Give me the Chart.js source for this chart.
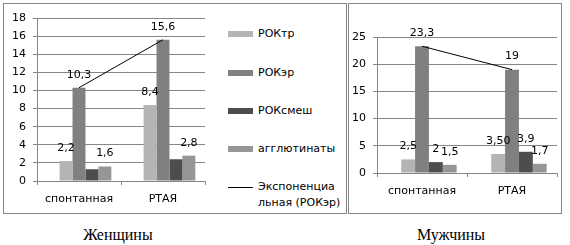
<!DOCTYPE html>
<html>
<head>
<meta charset="utf-8">
<script src="https://cdn.jsdelivr.net/npm/chart.js@4/dist/chart.umd.min.js"></script>
<style>
  body { margin: 0; width: 570px; height: 245px; background: #fff; position: relative; overflow: hidden; font-family: 'DejaVu Sans', sans-serif; }
  .box { position: absolute; border: 1px solid #868686; box-sizing: border-box; }
  canvas { position: absolute; }
  .sw { position: absolute; left: 228px; width: 25px; height: 6px; }
  .ln { position: absolute; left: 228px; width: 25px; height: 1px; background: #000; }
  .lt { position: absolute; left: 258px; font-size: 11px; line-height: 16px; color: #000; white-space: nowrap; }
  .cap { position: absolute; top: 226px; width: 140px; text-align: center; font-family: 'Liberation Serif', serif; font-size: 16px; color: #000; }
</style>
</head>
<body>
<div class="box" style="left:3px;top:3px;width:344px;height:211px"></div>
<div class="box" style="left:348px;top:3px;width:214px;height:211px"></div>
<canvas id="women" width="210" height="208" style="left:4px;top:4px"></canvas>
<canvas id="men" width="212" height="208" style="left:349px;top:4px"></canvas>
<div id="legend"></div>
<div class="cap" style="left:48px">Женщины</div>
<div class="cap" style="left:381px">Мужчины</div>
<script>
const categories = ['спонтанная', 'РТАЯ'];
const seriesNames = ['РОКтр', 'РОКэр', 'РОКсмеш', 'агглютинаты'];
const seriesColors = ['#b4b4b4', '#808080', '#4d4d4d', '#969696'];
const trendName = ['Экспоненциа', 'льная (РОКэр)'];

// women
const womenTr = [2.2, 8.4];
const womenEr = [10.3, 15.6];
const womenMix = [1.3, 2.4];
const womenAggl = [1.6, 2.8];

// men
const menTr = [2.5, 3.5];
const menTrText = ['2,5', '3,50'];
const menEr = [23.3, 19];
const menMix = [2, 3.9];
const menAggl = [1.5, 1.7];

const grey = '#868686';
const font = { family: 'DejaVu Sans', size: 11 };
Chart.defaults.animation = false;

const valueLabels = {
  id: 'valueLabels',
  afterDatasetsDraw(chart) {
    const ctx = chart.ctx;
    ctx.save();
    ctx.font = '11px "DejaVu Sans"';
    ctx.fillStyle = '#000';
    ctx.textAlign = 'center';
    ctx.textBaseline = 'middle';
    chart.data.datasets.forEach((ds, i) => {
      if (!ds.showValues) return;
      chart.getDatasetMeta(i).data.forEach((bar, j) => {
        const v = ds.data[j];
        if (v == null) return;
        const txt = ds.valueText ? ds.valueText[j] : String(v).replace('.', ',');
        ctx.fillText(txt, bar.x, bar.y - 13);
      });
    });
    ctx.restore();
  }
};

function bar(label, data, color, showValues, valueText) {
  return { type: 'bar', label, data, backgroundColor: color, borderWidth: 0,
    barPercentage: 1, categoryPercentage: 0.77, order: 1, showValues, valueText };
}

function makeChart(id, series, yMax, yStep, pad, yWidth, xHeight) {
  return new Chart(document.getElementById(id), {
    data: {
      labels: categories,
      datasets: [
        // empty first slot, Excel left a gap there
        bar('', [null, null], 'transparent', false),
        ...series,
        { type: 'line', label: 'trend', data: series[1].data, borderColor: '#000', borderWidth: 1,
          pointRadius: 0, tension: 0, order: 0 }
      ]
    },
    options: {
      responsive: false,
      layout: { padding: pad },
      plugins: { legend: { display: false }, tooltip: { enabled: false } },
      scales: {
        x: {
          offset: true,
          grid: { offset: true, drawOnChartArea: false, drawTicks: true, tickLength: 4, color: grey },
          border: { color: grey },
          ticks: { font, color: '#000', padding: 8, maxRotation: 0 },
          afterFit(s) { s.height = xHeight; }
        },
        y: {
          min: 0, max: yMax,
          grid: { color: grey, tickLength: 4 },
          border: { color: grey },
          ticks: { stepSize: yStep, font, color: '#000', padding: 7 },
          afterFit(s) { s.width = yWidth; }
        }
      }
    },
    plugins: [valueLabels]
  });
}

makeChart('women', [
  bar(seriesNames[0], womenTr, seriesColors[0], true),
  bar(seriesNames[1], womenEr, seriesColors[1], true),
  bar(seriesNames[2], womenMix, seriesColors[2], false),
  bar(seriesNames[3], womenAggl, seriesColors[3], true)
], 18, 2, { left: 0, top: 14, right: 9, bottom: 0 }, 33, 31);

makeChart('men', [
  bar(seriesNames[0], menTr, seriesColors[0], true, menTrText),
  bar(seriesNames[1], menEr, seriesColors[1], true),
  bar(seriesNames[2], menMix, seriesColors[2], true),
  bar(seriesNames[3], menAggl, seriesColors[3], true)
], 25, 5, { left: 0, top: 33, right: 4, bottom: 0 }, 28, 39);

// legend for the women chart
const legend = document.getElementById('legend');
const rowY = [34, 73, 111, 149];
seriesNames.forEach((name, i) => {
  const sw = document.createElement('div');
  sw.className = 'sw';
  sw.style.top = (rowY[i] - 3) + 'px';
  sw.style.background = seriesColors[i];
  legend.appendChild(sw);
  const t = document.createElement('div');
  t.className = 'lt';
  t.style.top = (rowY[i] - 8) + 'px';
  t.textContent = name;
  legend.appendChild(t);
});
const ln = document.createElement('div');
ln.className = 'ln';
ln.style.top = '187px';
legend.appendChild(ln);
const lt = document.createElement('div');
lt.className = 'lt';
lt.style.top = '179px';
lt.innerHTML = trendName.join('<br>');
legend.appendChild(lt);
</script>
</body>
</html>
